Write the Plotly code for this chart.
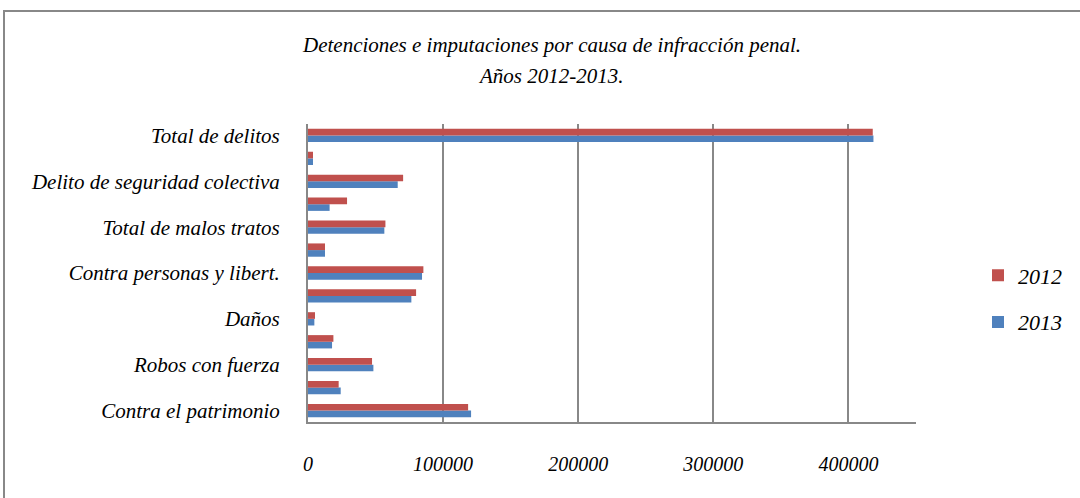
import plotly.graph_objects as go

labels = ["Contra el patrimonio", "", "Robos con fuerza", "", "Daños", "",
          "Contra personas y libert.", "", "Total de malos tratos", "",
          "Delito de seguridad colectiva", "", "Total de delitos"]
v2012 = [118500, 22700, 47400, 18800, 5200, 80000, 85400, 12600, 57300, 28900, 70400, 3700, 418000]
v2013 = [120700, 24200, 48400, 17800, 4700, 76500, 84400, 12600, 56500, 16000, 66400, 3700, 418500]
xticks = [0, 100000, 200000, 300000, 400000]
title_lines = ["Detenciones e imputaciones por causa de infracción penal.", "Años 2012-2013."]

pos = list(range(len(labels)))
tickvals = [p for p, l in zip(pos, labels) if l]
ticktext = [l for l in labels if l]

FONT = "Liberation Serif, Times New Roman, serif"
fig = go.Figure()
fig.add_trace(go.Bar(name="<i>2013</i>", y=pos, x=v2013, orientation="h",
                     marker=dict(color="#4F81BD", line=dict(width=0)), legendgroup="b", legendrank=2))
fig.add_trace(go.Bar(name="<i>2012</i>", y=pos, x=v2012, orientation="h",
                     marker=dict(color="#C0504D", line=dict(width=0)), legendgroup="a", legendrank=1))

L, R, T, B = 308, 164, 124, 76
W, H = 1080, 498
pw, ph = W - L - R, H - T - B

annotations = [dict(text=f"<i>{t}</i>", xref="paper", yref="paper",
                    x=(551 - L) / pw, y=(H - B - yc) / ph, xanchor="center", yanchor="middle",
                    showarrow=False, font=dict(family=FONT, size=21, color="black"))
               for t, yc in zip(title_lines, [45, 76])]

fig.update_layout(
    width=W, height=H,
    margin=dict(l=L, r=R, t=T, b=B),
    paper_bgcolor="white", plot_bgcolor="white",
    barmode="group", bargap=0.42, bargroupgap=0.0,
    font=dict(family=FONT, color="black"),
    annotations=annotations,
    xaxis=dict(range=[0, 450000], tickvals=xticks, ticktext=[f"<i>{v}</i>" for v in xticks],
               showgrid=True, gridcolor="#888888", gridwidth=2,
               showline=True, linecolor="#888888", linewidth=2,
               zeroline=False, ticks="", ticklabelstandoff=23,
               tickfont=dict(family=FONT, size=20, color="black")),
    yaxis=dict(range=[-0.5, len(labels) - 0.5], tickvals=tickvals,
               ticktext=[f"<i>{t}</i>" for t in ticktext],
               showgrid=False, showline=True, linecolor="#888888", linewidth=2,
               zeroline=False, ticks="", ticklabelstandoff=22,
               tickfont=dict(family=FONT, size=21, color="black")),
    legend=dict(xref="container", yref="container", x=978 / W, xanchor="left",
                y=1 - 299 / H, yanchor="middle",
                traceorder="grouped", tracegroupgap=15,
                font=dict(family=FONT, size=22, color="black")),
    shapes=[dict(type="rect", xref="paper", yref="paper",
                 x0=(4 - L) / pw, x1=(1090 - L) / pw,
                 y0=(H - B - 510) / ph, y1=(H - B - 11) / ph,
                 line=dict(color="#888888", width=2), layer="below")],
)

fig.write_html("out.html")
